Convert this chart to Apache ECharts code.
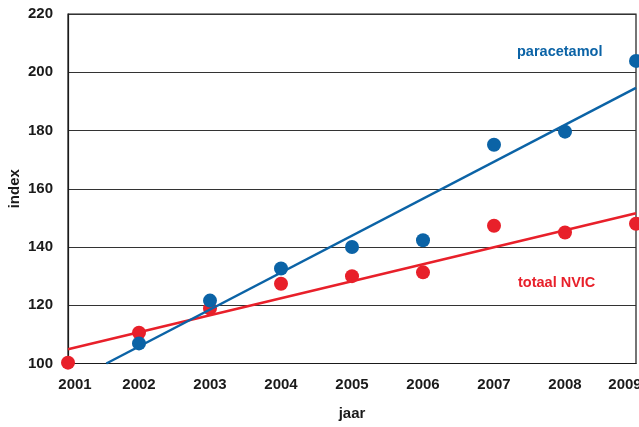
<!DOCTYPE html>
<html>
<head>
<meta charset="utf-8">
<script src="https://cdn.jsdelivr.net/npm/echarts@6/dist/echarts.min.js"></script>
<style>
html,body{margin:0;padding:0;background:#fff;}
#chart{width:639px;height:427px;}
</style>
</head>
<body>
<div id="chart"></div>
<script>
var years = [2001, 2002, 2003, 2004, 2005, 2006, 2007, 2008, 2009];
var paracetamol = [null, 106.9, 121.6, 132.6, 140.0, 142.3, 175.1, 179.6, 203.9];
var totaalNVIC = [100.3, 110.6, 118.9, 127.4, 130.0, 131.3, 147.3, 145.0, 148.0];
var trendParacetamol = [[2001.54, 100], [2009, 194.6]];
var trendNVIC = [[2001, 104.9], [2009, 151.6]];
var yTicks = [100, 120, 140, 160, 180, 200, 220];

var BLUE = '#0b63a6';
var RED = '#e8202a';
var FONT = '"Liberation Sans", Arial, sans-serif';
var TXT = '#1a1a1a';

function pairs(vals) {
  var out = [];
  for (var i = 0; i < years.length; i++) {
    if (vals[i] != null) out.push([years[i], vals[i]]);
  }
  return out;
}

var chart = echarts.init(document.getElementById('chart'), null, {renderer: 'canvas'});
chart.setOption({
  animation: false,
  backgroundColor: '#fff',
  grid: {left: 68, right: 3, top: 14, bottom: 63.5, show: true, borderColor: TXT, borderWidth: 1.2,
         containLabel: false, outerBoundsMode: 'none'},
  xAxis: {
    type: 'value', min: 2001, max: 2009, interval: 1,
    name: 'jaar', nameLocation: 'middle', nameGap: 43, nameMoveOverlap: false,
    nameTextStyle: {fontFamily: FONT, fontWeight: 'bold', fontSize: 15, color: TXT},
    axisLine: {show: true, lineStyle: {color: TXT, width: 1.2}},
    axisTick: {show: false},
    splitLine: {show: false},
    axisLabel: {
      margin: 14, fontFamily: FONT, fontWeight: 'bold', fontSize: 15, color: TXT,
      formatter: function (v) {
        if (v === years[0]) return '{first|' + v + '}';
        if (v === years[years.length - 1]) return '{last|' + v + '}';
        return String(v);
      },
      rich: {
        first: {fontFamily: FONT, fontWeight: 'bold', fontSize: 15, color: TXT, padding: [0, 0, 0, 14]},
        last: {fontFamily: FONT, fontWeight: 'bold', fontSize: 15, color: TXT, padding: [0, 22, 0, 0]}
      }
    }
  },
  yAxis: {
    type: 'value', min: yTicks[0], max: yTicks[yTicks.length - 1], interval: 20,
    name: 'index', nameLocation: 'middle', nameGap: 46, nameRotate: 90, nameMoveOverlap: false,
    nameTextStyle: {fontFamily: FONT, fontWeight: 'bold', fontSize: 15, color: TXT},
    axisLine: {show: true, lineStyle: {color: TXT, width: 1.2}},
    axisTick: {show: false},
    splitLine: {show: true, lineStyle: {color: '#333', width: 1.2}},
    axisLabel: {margin: 15, fontFamily: FONT, fontWeight: 'bold', fontSize: 15, color: TXT}
  },
  series: [
    {type: 'scatter', name: 'totaal NVIC', data: pairs(totaalNVIC), symbolSize: 14, itemStyle: {color: RED, opacity: 1}, z: 2},
    {type: 'line', data: trendNVIC, showSymbol: false, symbol: 'none', lineStyle: {color: RED, width: 2.5}, z: 3},
    {type: 'scatter', name: 'paracetamol', data: pairs(paracetamol), symbolSize: 14, itemStyle: {color: BLUE, opacity: 1}, z: 4},
    {type: 'line', data: trendParacetamol, showSymbol: false, symbol: 'none', lineStyle: {color: BLUE, width: 2.5}, z: 5}
  ],
  graphic: [
    {type: 'text', left: 517, top: 44, style: {text: 'paracetamol', fill: BLUE, font: 'bold 14.5px ' + FONT}},
    {type: 'text', left: 518, top: 275, style: {text: 'totaal NVIC', fill: RED, font: 'bold 14.5px ' + FONT}}
  ]
});
</script>
</body>
</html>
